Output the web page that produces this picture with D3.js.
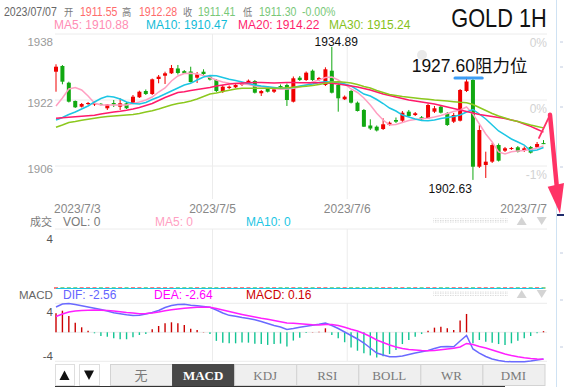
<!DOCTYPE html>
<html>
<head>
<meta charset="utf-8">
<script src="https://cdn.jsdelivr.net/npm/d3@7/dist/d3.min.js"></script>
<style>
  body { margin: 0; background: #fff; }
  #chart svg { display: block; }
</style>
</head>
<body>
<div id="chart"></div>
<script>
// hourly candles, [open, high, low, close]
var candles = [
  [1928.86, 1930.66, 1924.01, 1930.07], [1930.24, 1930.48, 1925.81, 1926.44], [1926.19, 1926.44, 1921.40, 1921.59],
  [1921.76, 1921.88, 1920.06, 1920.23], [1920.38, 1921.27, 1920.18, 1921.03], [1921.03, 1921.52, 1920.79, 1921.27],
  [1920.91, 1921.64, 1920.55, 1921.20], [1921.08, 1921.27, 1920.67, 1920.91], [1919.99, 1921.03, 1919.58, 1920.91],
  [1921.27, 1922.00, 1920.30, 1920.91], [1920.38, 1922.41, 1919.58, 1921.20], [1921.20, 1921.52, 1919.82, 1919.99],
  [1921.20, 1923.21, 1921.03, 1922.80], [1922.66, 1924.26, 1922.49, 1924.01], [1924.18, 1924.55, 1923.21, 1923.45],
  [1923.45, 1927.21, 1923.21, 1927.02], [1927.09, 1928.06, 1926.05, 1927.65], [1927.89, 1928.86, 1925.88, 1928.47],
  [1928.47, 1930.49, 1928.30, 1929.76], [1929.64, 1930.49, 1928.18, 1928.55], [1929.00, 1929.27, 1928.30, 1928.47],
  [1928.91, 1930.07, 1926.24, 1926.36], [1927.41, 1928.79, 1926.12, 1928.23], [1928.86, 1929.44, 1928.06, 1928.30],
  [1927.65, 1928.06, 1926.73, 1926.97], [1926.85, 1927.09, 1923.94, 1924.18], [1924.01, 1925.64, 1923.70, 1925.23],
  [1924.91, 1925.52, 1924.67, 1925.23], [1925.08, 1925.88, 1924.91, 1925.64], [1925.64, 1926.36, 1925.39, 1926.05],
  [1926.05, 1926.97, 1925.88, 1926.68], [1926.61, 1926.85, 1923.58, 1923.77], [1923.63, 1924.43, 1922.97, 1924.18],
  [1924.84, 1925.15, 1923.82, 1924.01], [1924.01, 1924.91, 1923.70, 1924.59], [1925.39, 1925.76, 1924.79, 1925.08],
  [1925.64, 1926.00, 1920.55, 1922.00], [1921.59, 1927.70, 1921.40, 1927.26], [1927.41, 1927.82, 1926.61, 1926.85],
  [1926.85, 1928.91, 1926.61, 1928.62], [1929.10, 1929.39, 1926.61, 1926.85], [1926.85, 1927.58, 1926.61, 1927.33],
  [1925.64, 1929.93, 1925.39, 1929.44], [1929.10, 1934.89, 1923.58, 1923.77], [1925.64, 1926.00, 1919.17, 1922.41],
  [1922.17, 1923.09, 1922.00, 1922.80], [1924.18, 1924.43, 1921.15, 1921.35], [1921.35, 1921.64, 1919.21, 1919.33],
  [1919.58, 1919.82, 1915.46, 1915.53], [1915.82, 1917.32, 1914.73, 1915.09], [1915.53, 1915.82, 1914.37, 1914.61],
  [1914.97, 1917.56, 1914.73, 1916.11], [1915.94, 1916.79, 1915.70, 1916.50], [1917.15, 1917.76, 1916.42, 1916.74],
  [1916.98, 1919.33, 1916.67, 1918.92], [1919.17, 1919.58, 1917.88, 1918.12], [1918.36, 1919.09, 1918.12, 1918.78],
  [1917.81, 1918.12, 1917.15, 1917.32], [1917.56, 1921.15, 1917.40, 1920.79], [1919.17, 1920.55, 1918.85, 1919.99],
  [1920.38, 1920.79, 1918.73, 1918.92], [1918.78, 1919.09, 1915.70, 1915.94], [1916.74, 1918.85, 1916.42, 1918.36],
  [1916.98, 1924.67, 1916.79, 1924.43], [1924.18, 1927.60, 1923.94, 1926.49], [1926.85, 1927.20, 1902.63, 1905.83],
  [1905.83, 1915.94, 1905.52, 1914.73], [1906.25, 1909.47, 1903.10, 1907.05], [1907.05, 1911.58, 1906.73, 1911.09],
  [1911.09, 1911.46, 1907.09, 1907.29], [1909.71, 1910.61, 1909.40, 1910.29], [1910.12, 1910.61, 1909.88, 1910.36],
  [1910.54, 1910.85, 1909.27, 1909.47], [1909.64, 1910.73, 1909.40, 1910.29], [1910.61, 1910.85, 1909.03, 1909.23],
  [1910.54, 1911.82, 1910.36, 1911.34], [1911.55, 1912.28, 1911.30, 1911.41]
];

var ma5 = [1920.55,1922.49,1924.67,1925.03,1924.43,1922.97,1921.27,1920.79,1920.79,1920.79,1920.79,1920.79,
  1921.15,1921.52,1922.00,1922.73,1923.94,1924.91,1926.61,1927.82,1928.42,1928.47,1928.30,1927.94,
  1927.45,1926.85,1926.36,1926.05,1926.00,1925.88,1925.76,1925.39,1925.22,1925.03,1924.79,1924.59,
  1924.67,1924.84,1925.15,1925.64,1926.36,1926.85,1927.45,1927.58,1926.85,1925.88,1924.67,1923.82,
  1922.49,1920.79,1918.78,1917.15,1915.94,1916.06,1916.55,1917.03,1917.27,1917.44,1917.56,1917.88,
  1918.24,1918.73,1919.21,1919.58,1920.30,1918.61,1916.18,1913.76,1911.82,1909.40,1908.91,1909.47,
  1909.64,1909.76,1910.00,1910.36,1910.88];
var ma10 = [1917.15,1917.76,1918.48,1919.09,1919.82,1920.55,1921.52,1922.36,1922.92,1922.73,1922.24,1921.52,
  1921.15,1921.03,1921.40,1922.12,1922.73,1923.45,1924.18,1924.91,1925.64,1926.05,1926.85,1927.58,
  1927.94,1927.87,1927.45,1927.02,1926.73,1926.36,1926.00,1925.64,1925.39,1925.22,1925.03,1924.84,
  1924.91,1925.03,1925.39,1925.64,1925.88,1926.24,1926.44,1926.36,1926.20,1925.88,1925.39,1924.43,
  1923.45,1922.97,1922.12,1921.15,1920.06,1919.33,1918.36,1917.88,1917.39,1917.03,1916.98,1917.15,
  1917.52,1917.76,1918.00,1918.36,1919.09,1919.70,1918.61,1917.39,1915.94,1914.49,1913.52,1912.55,
  1911.82,1911.09,1909.64,1909.88,1910.47];
var ma20 = [1917.56,1917.69,1917.81,1917.93,1918.05,1918.17,1918.29,1918.61,1918.85,1919.09,1919.26,1919.50,
  1919.82,1920.18,1920.67,1921.15,1921.88,1922.61,1923.21,1923.82,1924.01,1924.30,1924.55,1924.79,
  1925.03,1925.39,1925.64,1925.88,1926.00,1926.12,1926.20,1926.25,1926.22,1926.18,1926.15,1926.18,
  1926.22,1926.25,1926.20,1926.16,1926.20,1926.18,1926.12,1926.05,1925.88,1925.64,1925.39,1925.15,
  1924.79,1924.43,1923.94,1923.45,1923.09,1922.73,1922.36,1922.00,1921.76,1921.52,1921.27,1921.03,
  1920.67,1920.30,1919.94,1919.58,1919.21,1918.85,1918.49,1918.24,1918.00,1917.76,1917.52,1917.15,
  1916.79,1916.20,1915.60,1914.90,1914.22];
var ma30 = [1915.38,1915.94,1916.55,1916.79,1917.08,1917.32,1917.56,1917.81,1918.00,1918.12,1918.24,1918.36,
  1918.49,1918.73,1919.09,1919.41,1919.82,1920.30,1920.79,1921.15,1921.40,1921.76,1922.24,1922.85,
  1923.45,1923.70,1924.06,1924.35,1924.67,1924.84,1924.84,1924.86,1924.84,1924.82,1924.84,1924.88,
  1924.96,1925.08,1925.20,1925.35,1925.52,1925.76,1926.05,1926.36,1926.44,1926.29,1926.12,1925.76,
  1925.27,1924.91,1924.30,1923.82,1923.33,1923.09,1922.85,1922.66,1922.49,1922.32,1922.17,1922.00,
  1921.88,1921.76,1921.59,1921.44,1921.35,1920.91,1920.18,1919.46,1918.73,1918.12,1917.64,1917.15,
  1916.79,1916.35,1915.94,1915.58,1915.24];

// volume panel shows zero everywhere
var volume = [0,0,0,0,0,0,0,0,0,0,0, 0,0,0,0,0,0,0,0,0,0,0, 0,0,0,0,0,0,0,0,0,0,0,
  0,0,0,0,0,0,0,0,0,0,0, 0,0,0,0,0,0,0,0,0,0,0, 0,0,0,0,0,0,0,0,0,0,0, 0,0,0,0,0,0,0,0,0,0,0];

var dif = [3.49,3.90,3.97,3.83,3.66,3.49,3.31,3.14,2.94,2.70,2.55,2.41,
  2.32,2.34,2.52,2.73,3.01,3.42,3.70,3.83,3.86,3.72,3.67,3.56,
  3.45,3.08,2.66,2.34,2.21,2.04,1.90,1.74,1.49,1.21,0.94,0.73,
  0.39,0.52,0.69,0.83,0.97,1.10,1.28,0.94,0.52,0.04,-0.44,-0.92,
  -1.48,-2.17,-2.86,-3.13,-3.37,-3.37,-3.27,-3.06,-2.86,-2.69,-2.51,-2.23,
  -1.99,-1.97,-1.99,-1.20,-0.44,-2.30,-2.86,-3.34,-3.68,-3.89,-4.03,-4.06,
  -4.06,-4.06,-3.96,-3.82,-3.68];
var dea = [2.18,2.52,2.80,2.94,3.01,3.05,3.08,3.05,3.01,2.94,2.83,2.73,
  2.66,2.55,2.59,2.66,2.80,2.97,3.10,3.21,3.31,3.38,3.45,3.46,
  3.45,3.28,3.08,2.87,2.66,2.46,2.28,2.11,1.94,1.81,1.63,1.46,
  1.28,1.24,1.17,1.10,1.03,1.01,1.08,1.08,0.94,0.69,0.41,0.18,
  -0.17,-0.58,-1.06,-1.41,-1.75,-2.03,-2.23,-2.37,-2.44,-2.51,-2.54,-2.51,
  -2.40,-2.30,-2.21,-2.03,-1.54,-1.68,-1.96,-2.17,-2.44,-2.72,-2.99,-3.20,
  -3.38,-3.52,-3.61,-3.68,-3.72];
var macd = [2.62,2.98,2.25,1.33,0.69,0.22,-0.14,-0.51,-0.61,-0.83,-0.96,-0.96,
  -0.69,-0.37,-0.24,0.42,0.87,1.24,1.38,1.24,1.01,0.50,0.32,0.04,
  -0.23,-1.18,-1.43,-1.52,-1.52,-1.40,-1.43,-1.59,-1.63,-1.74,-1.63,-1.56,
  -1.97,-1.14,-0.76,-0.08,0.04,0.08,0.55,-0.37,-0.83,-1.37,-2.09,-2.54,
  -2.88,-3.19,-3.49,-3.30,-3.00,-2.44,-1.62,-1.06,-0.61,-0.24,0.22,0.64,
  0.77,0.55,0.32,1.63,2.53,-1.52,-1.06,-1.30,-1.43,-1.62,-1.75,-1.52,
  -1.16,-0.83,-0.51,-0.14,0.16];

var priceTicks = [1938, 1922, 1906];
var pctLabels = ["0%", "0%", "-1%"];
var dateTicks = [0, 24.4, 45.4, 76];
var dateLabels = ["2023/7/3", "2023/7/5", "2023/7/6", "2023/7/7"];
var macdTicks = [4, -4];
var tabs = ["无", "MACD", "KDJ", "RSI", "BOLL", "WR", "DMI"];
var macdLegend = [-2.56, -2.64, 0.16];   // DIF, DEA, MACD as printed
var resistance = 1927.60;

var sans = "'Liberation Sans', Arial, sans-serif",
    cjk = "'Noto Sans CJK SC', sans-serif",
    serif = "'Liberation Serif', 'Times New Roman', serif";
var upColor = "#f00000", downColor = "#11a811";
var left = 55, right = 547;

var svg = d3.select("#chart")
  .append("svg")
    .attr("width", 564)
    .attr("height", 387)
    .style("font-family", sans);

var x = d3.scaleLinear().domain([0, candles.length - 1]).range([56, 543.5]);
var y = d3.scaleLinear().domain([1906, 1938]).range([166, 34]);
var yVol = d3.scaleLinear().domain([0, 4]).range([288, 229]);
var yMacd = d3.scaleLinear().domain([-4, 4]).range([361.3, 303.3]);

function label(g, px, py, s, size, color, opt) {
  opt = opt || {};
  var t = g.append("text")
    .attr("transform", "translate(" + px + "," + py + ")" + (opt.sx ? " scale(" + opt.sx + ",1)" : ""))
    .attr("text-anchor", opt.anchor || "start")
    .style("font-family", opt.font || sans)
    .style("font-size", size + "px")
    .style("fill", color)
    .text(s);
  if (opt.bold) t.style("font-weight", "bold");
  return t;
}

function hline(yy, c) {
  svg.append("line").attr("x1", left).attr("x2", right).attr("y1", yy).attr("y2", yy)
    .attr("stroke", c || "#ececec").attr("stroke-width", 1);
}
function vlines(y1, y2) {
  [dateTicks[1], dateTicks[2]].forEach(function(t) {
    svg.append("line").attr("x1", x(t)).attr("x2", x(t)).attr("y1", y1).attr("y2", y2)
      .attr("stroke", "#ececec").attr("stroke-width", 1);
  });
}

// header line
var last = candles[candles.length - 1];
var gray = "#7a7a7a", upTxt = "#ff6b6b", dnTxt = "#78c878";
[["2023/07/07", 4, "#666", 0], ["开", 64, gray, 1], [last[0].toFixed(2), 80, upTxt, 0],
 ["高", 122, gray, 1], [last[1].toFixed(2), 139, upTxt, 0], ["收", 183, gray, 1],
 [last[3].toFixed(2), 198, dnTxt, 0], ["低", 243, gray, 1], [last[2].toFixed(2), 259, dnTxt, 0],
 ["-0.00%", 302, dnTxt, 0]].forEach(function(h) {
  label(svg, h[1], 16, h[0], h[3] ? 10.5 : 12, h[2], {sx: 0.88, font: h[3] ? cjk : sans});
});

// MA legend
[["MA5: " + ma5[ma5.length - 1].toFixed(2), 54, "#ff8db4"],
 ["MA10: " + ma10[ma10.length - 1].toFixed(2), 146, "#12bcd8"],
 ["MA20: " + ma20[ma20.length - 1].toFixed(2), 238, "#ff1f6e"],
 ["MA30: " + ma30[ma30.length - 1].toFixed(2), 329, "#85c21a"]].forEach(function(m) {
  label(svg, m[1], 29.3, m[0], 12, m[2]);
});
label(svg, 546.7, 26.7, "GOLD 1H", 25, "#111", {anchor: "end", sx: 0.87});

// main grid + axis labels
priceTicks.forEach(function(v, i) {
  hline(y(v));
  label(svg, 53, y(v) + (i === 0 ? 12 : 6.8), v, 11.5, "#9a9a9a", {anchor: "end"});
  label(svg, 547, y(v) + 13, pctLabels[i], 12, "#d2d2d2", {anchor: "end"});
});
vlines(34, 199);
svg.append("circle").attr("cx", 422).attr("cy", 55).attr("r", 5).attr("fill", "#e9e9e9");

dateLabels.forEach(function(d, i) {
  var anchor = i === 0 ? "start" : (i === dateLabels.length - 1 ? "end" : "middle");
  var px = i === 0 ? x(dateTicks[i]) - 2 : (i === dateLabels.length - 1 ? x(dateTicks[i]) + 3.5 : x(dateTicks[i]));
  label(svg, px, 212.8, d, 12, "#888", {anchor: anchor});
});

// candles
var cg = svg.append("g");
candles.forEach(function(c, i) {
  var col = c[3] >= c[0] ? upColor : downColor;
  cg.append("line").attr("x1", x(i)).attr("x2", x(i)).attr("y1", y(c[1])).attr("y2", y(c[2]))
    .attr("stroke", col).attr("stroke-width", 1);
  var top = y(Math.max(c[0], c[3])), h = Math.max(1, Math.abs(y(c[0]) - y(c[3])));
  cg.append("rect").attr("x", x(i) - 2).attr("y", top).attr("width", 4).attr("height", h).attr("fill", col);
});

// moving averages
var maLine = d3.line().x(function(d, i) { return x(i); }).y(function(d) { return y(d); });
[[ma5, "#ff9fc2"], [ma10, "#1cc6e4"], [ma20, "#ff1a6a"], [ma30, "#8cc81e"]].forEach(function(m) {
  svg.append("path").datum(m[0]).attr("d", maLine)
    .attr("fill", "none").attr("stroke", m[1]).attr("stroke-width", 1.5);
});

// annotations
label(svg, x(43) + 4.4, y(candles[43][1]) - 1, candles[43][1].toFixed(2), 12, "#111", {anchor: "middle"});
label(svg, x(65) - 1, y(candles[65][2]) + 13.5, candles[65][2].toFixed(2), 12, "#111", {anchor: "end"});
label(svg, x(64) + 3, y(resistance) - 5, resistance.toFixed(2) + "阻力位", 17.5, "#111", {anchor: "middle", font: sans + ", " + cjk});
svg.append("line").attr("x1", x(62.2)).attr("x2", x(66.45)).attr("y1", y(resistance) + 1.2).attr("y2", y(resistance) + 1.2)
  .attr("stroke", "#3d9df5").attr("stroke-width", 3).attr("stroke-linecap", "round");

// dotted handle + arrows used on panel header rows
var defs = svg.append("defs");
defs.append("pattern").attr("id", "dots").attr("width", 2.5).attr("height", 2.5).attr("patternUnits", "userSpaceOnUse")
  .append("rect").attr("width", 1.3).attr("height", 1.3).attr("fill", "#d6d6d6");
function headerTools(cy) {
  svg.append("rect").attr("x", 433).attr("y", cy - 3).attr("width", 75).attr("height", 5).attr("fill", "url(#dots)");
  svg.append("path").attr("d", "M516.7," + (cy + 4) + "L521.7," + (cy - 4) + "L526.7," + (cy + 4) + "Z").attr("fill", "#d4d4d4");
  svg.append("path").attr("d", "M536.7," + (cy - 4) + "L541.7," + (cy + 4) + "L546.7," + (cy - 4) + "Z").attr("fill", "#d4d4d4");
}

// volume panel
label(svg, 30, 226, "成交", 11, gray, {font: cjk});
label(svg, 63, 226, "VOL: " + volume[volume.length - 1], 12, gray);
label(svg, 155, 226, "MA5: 0", 12, "#ff9fc2");
label(svg, 246, 226, "MA10: 0", 12, "#1cc6e4");
headerTools(221);
hline(yVol(4));
label(svg, 53, yVol(4) + 13.5, 4, 11.5, "#555", {anchor: "end"});
vlines(229, 288);
volume.forEach(function(v, i) {
  var h = Math.max(1, yVol(0) - yVol(v));
  svg.append("rect").attr("x", x(i) - 2).attr("y", yVol(0) - h + 0.5).attr("width", 4).attr("height", h)
    .attr("fill", candles[i][3] >= candles[i][0] ? upColor : downColor);
});
var volLine = d3.line().x(function(d, i) { return x(i); }).y(function(d) { return yVol(d) + 0.5; });
svg.append("path").datum(volume).attr("d", volLine).attr("fill", "none").attr("stroke", "#ff9fc2").attr("stroke-width", 1.2);
svg.append("path").datum(volume).attr("d", volLine).attr("fill", "none").attr("stroke", "#1cc6e4").attr("stroke-width", 1.2);

// MACD panel
label(svg, 19, 299.3, "MACD", 11.5, "#666");
label(svg, 63, 299.3, "DIF: " + macdLegend[0].toFixed(2), 12, "#6464ff");
label(svg, 154, 299.3, "DEA: " + macdLegend[1].toFixed(2), 12, "#ff00ff");
label(svg, 246, 299.3, "MACD: " + macdLegend[2].toFixed(2), 12, "#cc0000");
headerTools(294);
hline(yMacd(4));
hline(yMacd(0));
hline(yMacd(-4));
vlines(303, 361);
label(svg, 53, yMacd(macdTicks[0]) + 12.7, macdTicks[0], 11.5, "#555", {anchor: "end"});
label(svg, 53, yMacd(macdTicks[1]) - 1, macdTicks[1], 11.5, "#555", {anchor: "end"});

macd.forEach(function(v, i) {
  svg.append("line").attr("x1", x(i)).attr("x2", x(i)).attr("y1", yMacd(0)).attr("y2", yMacd(v))
    .attr("stroke", v >= 0 ? "#cc0000" : "#12c493").attr("stroke-width", 1.4);
});
var macdLine = d3.line().x(function(d, i) { return x(i); }).y(function(d) { return yMacd(d); });
svg.append("path").datum(dif).attr("d", macdLine).attr("fill", "none").attr("stroke", "#6a6aff").attr("stroke-width", 1.5);
svg.append("path").datum(dea).attr("d", macdLine).attr("fill", "none").attr("stroke", "#ff1fff").attr("stroke-width", 1.5);

// indicator tabs
var tg = svg.append("g");
[[55, 19, "M59.5,380L64.5,370.5L69.5,380Z"], [79, 20, "M84,370.5L89,380L94,370.5Z"]].forEach(function(b) {
  tg.append("rect").attr("x", b[0] + 0.5).attr("y", 364.5).attr("width", b[1]).attr("height", 21)
    .attr("fill", "#fff").attr("stroke", "#dedede");
  tg.append("path").attr("d", b[2]).attr("fill", "#111");
});
var tabX = d3.scaleBand().domain(tabs).range([110, 544.5]);
tabs.forEach(function(t, i) {
  var on = t === "MACD";
  tg.append("rect").attr("x", tabX(t) + 0.5).attr("y", 364.5).attr("width", tabX.bandwidth()).attr("height", 21)
    .attr("fill", on ? "#484848" : "#efefef").attr("stroke", on ? "#484848" : "#d3d3d3");
  label(tg, tabX(t) + tabX.bandwidth() / 2, 379.8, t, 13, on ? "#fff" : "#7a7a7a",
    {anchor: "middle", font: i === 0 ? cjk : serif, bold: on});
});
svg.append("rect").attr("x", 55).attr("y", 386).attr("width", 450).attr("height", 1.5).attr("fill", "#333");

// neighbouring panel edge
svg.append("line").attr("x1", 556.5).attr("x2", 556.5).attr("y1", 0).attr("y2", 387).attr("stroke", "#cfe2f3");
svg.append("line").attr("x1", 557).attr("x2", 564).attr("y1", 215).attr("y2", 215).attr("stroke", "#1f2d6e").attr("stroke-width", 2);
[42, 67, 107, 167, 253, 300, 347].forEach(function(t) {
  svg.append("line").attr("x1", 560).attr("x2", 563).attr("y1", t).attr("y2", t).attr("stroke", "#c0cbe0");
});

// hand-drawn arrow
var ax = x(candles.length - 1);
svg.append("path")
  .attr("d", "M" + (ax - 4.5) + "," + y(1912.8) + "L" + (ax + 6.5) + "," + y(1918.4))
  .attr("fill", "none").attr("stroke", "#ff3366").attr("stroke-width", 1.8).attr("stroke-linecap", "round");
svg.append("path")
  .attr("d", "M" + (ax + 6.5) + "," + y(1918.4) + "L" + (ax + 13.5) + "," + y(1900.5))
  .attr("fill", "none").attr("stroke", "#ff3366").attr("stroke-width", 4.5).attr("stroke-linecap", "round");
svg.append("path")
  .attr("d", "M" + (ax + 4.2) + "," + y(1901.0) + "L" + (ax + 16.5) + "," + y(1894.5) + "L" + (ax + 20.5) + "," + y(1901.9) + "Z")
  .attr("fill", "#ff3366");
</script>
</body>
</html>
